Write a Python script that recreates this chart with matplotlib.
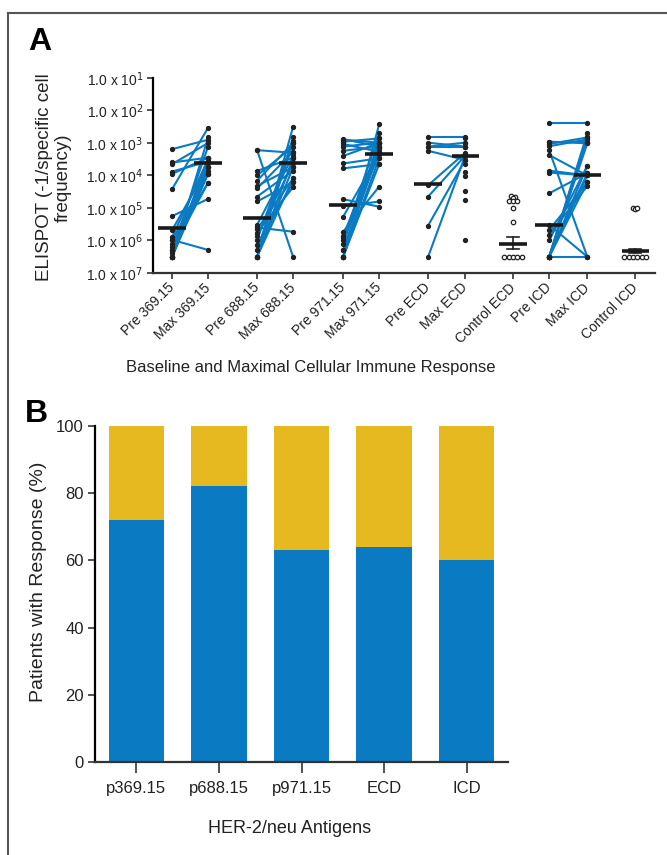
import numpy as np
import matplotlib
matplotlib.use('Agg')
import matplotlib.pyplot as plt
from matplotlib.lines import Line2D

nan = np.nan

# ---- Panel A data (log10 of 1/specific cell frequency) ----
pre369 = [3.19, 3.6, 3.65, 3.88, 3.95, 4.42, 5.25, 5.68, 5.98, 6.0, 6.29,
          6.29, 6.4, 6.5, 6.5, 6.5, 6.5, 6.5, 6.2, 6.1, 5.9, 6.5]
max369 = [2.9, 3.45, 3.0, 3.57, 3.45, 2.53, 4.72, 3.73, 6.29, 3.95, 4.22,
          3.11, 3.73, 2.83, 3.57, 3.45, 3.95, 3.6, 3.73, 4.22, 3.5, 3.85]

pre688 = [3.22, 3.22, 3.86, 4.0, 4.16, 4.32, 4.4, 4.65, 4.8, 5.52, 5.65,
          5.6, 5.76, 5.86, 5.98, 6.14, 6.29, 6.5, 6.5, 6.5, 6.5, 6.5]
max688 = [3.3, 6.5, 3.45, 3.11, 3.0, 3.75, 3.27, 3.85, 4.21, 3.39, 4.09,
          5.73, 4.36, 3.63, 2.93, 4.21, 3.01, 2.5, 2.83, 3.75, 3.45, 4.09]

pre971 = [2.88, 2.9, 2.96, 3.03, 3.11, 3.24, 3.4, 3.63, 3.78, 4.73, 4.95, 5.27,
          5.73, 5.86, 6.0, 6.29, 6.5, 6.5, 6.5, 6.5, 6.5, 5.9, 6.3, 6.1]
max971 = [3.11, 2.99, 2.86, 3.27, 2.99, 3.11, 3.0, 3.47, 3.65, 4.96, 4.8, 3.34,
          4.34, 3.11, 2.7, 3.27, 2.43, 2.86, 3.47, 3.0, 3.65, 3.34, 3.2, 2.99]

preECD = [2.83, 2.99, 3.11, 3.24, 3.11, 4.3, 4.65, 5.54, 6.5,
          nan, nan, nan, nan, nan, nan, nan, nan, nan]
maxECD = [2.83, 3.11, 3.11, 3.52, 2.99, 3.3, 3.39, 3.52, 3.39,
          2.86, 2.99, 3.11, 3.65, 3.88, 4.03, 4.47, 4.75, 6.0]

preICD = [2.37, 2.96, 2.96, 3.03, 3.22, 3.37, 3.85, 3.91, 4.55, 5.52, 5.68,
          5.83, 6.0, 6.5, 6.5, 6.5, 6.5, 6.5, 6.5, 6.5, 6.5, 3.1]
maxICD = [2.37, 3.01, 2.96, 2.83, 6.5, 4.0, 4.0, 4.0, 3.93, 6.5, 4.21,
          4.32, 3.7, 6.5, 2.7, 2.83, 3.01, 4.0, 3.93, 4.21, 3.7, 2.89]

ctrlECD = [4.63, 4.65, 4.7, 4.78, 4.78, 4.8, 4.99, 5.42, 6.5, 6.5, 6.5, 6.5, 6.5]
ctrlICD = [4.99, 5.02, 4.99, 6.5, 6.5, 6.5, 6.5, 6.5, 6.5]

a_labels = ['Pre 369.15', 'Max 369.15', 'Pre 688.15', 'Max 688.15',
            'Pre 971.15', 'Max 971.15', 'Pre ECD', 'Max ECD', 'Control ECD',
            'Pre ICD', 'Max ICD', 'Control ICD']
a_centers = [5.63, 3.63, 5.32, 3.63, 4.91, 3.34, 4.26, 3.39, 6.11, 5.52, 4.0, 6.32]
ctrl_err_ecd = (5.9, 6.26)
ctrl_err_icd = (6.26, 6.4)

# ---- Panel B data ----
antigens = ['p369.15', 'p688.15', 'p971.15', 'ECD', 'ICD']
responders = [72, 82, 63, 64, 60]

blue = '#0A7BC2'
gold = '#E7B921'
font = ['Liberation Sans', 'DejaVu Sans']
ink = '#222222'

fig = plt.figure(figsize=(6.67, 8.55), dpi=100)

# journal frame (top and left edges)
fig.add_artist(Line2D([8/667, 8/667], [0, 1 - 13/855], color='#555555', lw=1.5))
fig.add_artist(Line2D([8/667, 1], [1 - 13/855, 1 - 13/855], color='#555555', lw=1.5))

# ---------------- Panel A ----------------
axA = fig.add_axes([153/667, 1 - 273/855, 502/667, 195/855])
xpos = [0.53, 1.53, 2.89, 3.89, 5.28, 6.28, 7.64, 8.67, 10.0, 11.0, 12.06, 13.39]

pairs = [(pre369, max369, 0), (pre688, max688, 2), (pre971, max971, 4),
         (preECD, maxECD, 6), (preICD, maxICD, 9)]
for pre, mx, i in pairs:
    pre = np.array(pre)
    mx = np.array(mx)
    for a, b in zip(pre, mx):
        if not (np.isnan(a) or np.isnan(b)):
            axA.plot([xpos[i], xpos[i + 1]], [10**a, 10**b], color=blue,
                     lw=1.5, zorder=2)
    for vals, k in ((pre, i), (mx, i + 1)):
        v = vals[~np.isnan(vals)]
        axA.plot(np.full(len(v), xpos[k]), 10**v, 'o', color=ink,
                 ms=2.8, zorder=3)


def swarm(vals, x0, step=0.12):
    # spread equal values sideways like a dot plot
    vals = np.array(vals)
    xs = np.zeros(len(vals))
    groups = {}
    for j, v in enumerate(vals):
        groups.setdefault(round(v / 0.08), []).append(j)
    for idx in groups.values():
        offs = (np.arange(len(idx)) - (len(idx) - 1) / 2) * step
        for o, j in zip(offs, idx):
            xs[j] = x0 + o
    return xs


for vals, k, err in ((ctrlECD, 8, ctrl_err_ecd), (ctrlICD, 11, ctrl_err_icd)):
    axA.plot(swarm(vals, xpos[k]), 10**np.array(vals), 'o', mfc='white',
             mec=ink, mew=0.9, ms=3.2, zorder=3)
    axA.plot([xpos[k], xpos[k]], [10**err[0], 10**err[1]], color=ink,
             lw=1.2, zorder=4)
    for e in err:
        axA.plot([xpos[k] - 0.17, xpos[k] + 0.17], [10**e, 10**e],
                 color=ink, lw=1.2, zorder=4)

for k, c in enumerate(a_centers):
    axA.plot([xpos[k] - 0.38, xpos[k] + 0.38], [10**c, 10**c],
             color='#1a1a1a', lw=2.6, solid_capstyle='butt', zorder=5)

axA.set_yscale('log')
axA.set_ylim(1e7, 1e1)
axA.set_xlim(0, 13.94)
axA.set_yticks([10**n for n in range(1, 8)])
axA.set_yticklabels([f'1.0 x 10$^{{{n}}}$' for n in range(1, 8)],
                    family=font, fontsize=10, color=ink)
axA.minorticks_off()
axA.set_xticks(xpos)
axA.set_xticklabels(a_labels, rotation=45, ha='right', va='center',
                    rotation_mode='anchor', family=font, fontsize=10,
                    color=ink)
axA.tick_params(axis='x', length=4, width=1.2, pad=5, color='#333333')
axA.tick_params(axis='y', length=4, width=1.2, pad=3, color='#333333')
for s in ('top', 'right'):
    axA.spines[s].set_visible(False)
axA.spines['left'].set_linewidth(1.6)
axA.spines['bottom'].set_linewidth(1.6)
axA.spines['bottom'].set_color('#333333')
axA.set_ylabel('ELISPOT (-1/specific cell\nfrequency)', family=font,
               fontsize=13.5, color=ink, linespacing=1.2)
axA.yaxis.set_label_coords(-0.161, 0.49)
axA.set_xlabel('Baseline and Maximal Cellular Immune Response', family=font,
               fontsize=12, color=ink)
axA.xaxis.set_label_coords(0.315, -0.446)

# ---------------- Panel B ----------------
axB = fig.add_axes([95/667, 1 - 762/855, 413/667, 336/855])
xb = np.arange(len(antigens))
resp = np.array(responders)
axB.bar(xb, resp, width=0.67, color=blue, zorder=2)
axB.bar(xb, 100 - resp, bottom=resp, width=0.67, color=gold, zorder=2)
axB.set_xlim(-0.5, 4.5)
axB.set_ylim(0, 100)
axB.set_yticks(range(0, 101, 20))
axB.set_yticklabels([str(v) for v in range(0, 101, 20)], family=font,
                    fontsize=12, color=ink)
axB.set_xticks(xb)
axB.set_xticklabels(antigens, family=font, fontsize=12, color=ink)
axB.tick_params(axis='x', length=8, width=1.2, pad=6, color='#333333')
axB.tick_params(axis='y', length=5, width=1.2, pad=3, color='#333333')
for s in ('top', 'right'):
    axB.spines[s].set_visible(False)
axB.spines['left'].set_linewidth(1.6)
axB.spines['bottom'].set_linewidth(1.6)
axB.spines['bottom'].set_color('#333333')
axB.set_ylabel('Patients with Response (%)', family=font, fontsize=14,
               color=ink)
axB.yaxis.set_label_coords(-0.116, 0.536)
axB.set_xlabel('HER-2/neu Antigens', family=font, fontsize=13, color=ink)
axB.xaxis.set_label_coords(0.472, -0.173)

fig.text(40/667, 1 - 42/855, 'A', family=font, fontweight='bold',
         fontsize=23, ha='center', va='center')
fig.text(36/667, 1 - 414/855, 'B', family=font, fontweight='bold',
         fontsize=23, ha='center', va='center')

fig.savefig('out.png', dpi=100)
